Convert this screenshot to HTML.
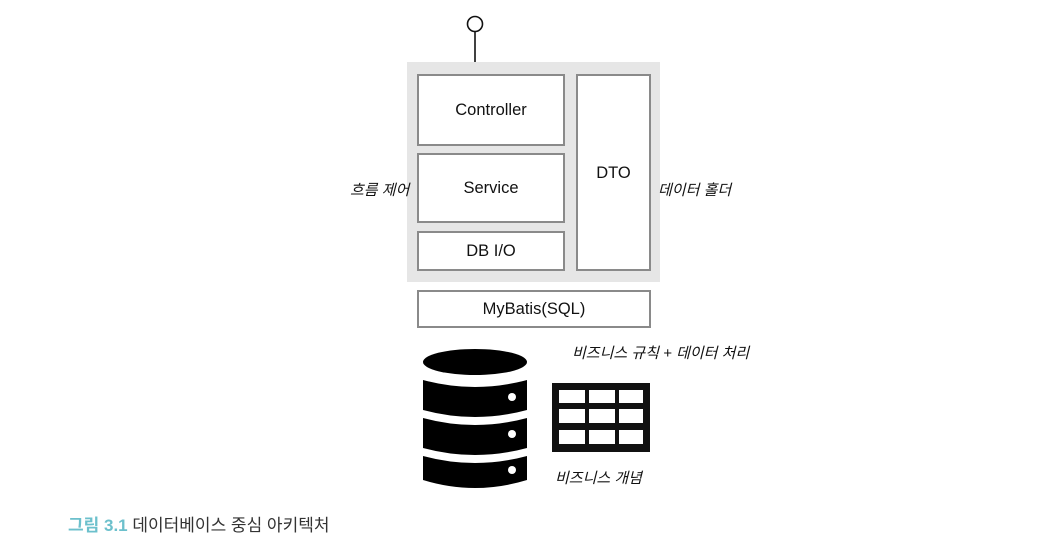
<!DOCTYPE html>
<html><head><meta charset="utf-8"><style>
body{margin:0;width:1048px;height:560px;background:#fff;position:relative;overflow:hidden;font-family:"Liberation Sans","Noto Sans CJK KR",sans-serif;}
.a{position:absolute;box-sizing:border-box;}
.bx{border:2px solid #8a8a8a;background:#fff;display:flex;align-items:center;justify-content:center;font-size:16.5px;color:#111;}
.lb{position:absolute;font-size:15px;font-style:italic;color:#111;white-space:nowrap;}
</style></head><body>
<svg class="a" style="left:0;top:0" width="1048" height="560">
<circle cx="475" cy="24" r="7.5" fill="#fff" stroke="#111" stroke-width="1.6"/>
<line x1="475" y1="31.5" x2="475" y2="62" stroke="#111" stroke-width="1.6"/>
</svg>
<div class="a" style="left:407px;top:62px;width:253px;height:220px;background:#e6e6e6"></div>
<div class="a bx" style="left:417px;top:74px;width:148px;height:72px">Controller</div>
<div class="a bx" style="left:417px;top:153px;width:148px;height:70px">Service</div>
<div class="a bx" style="left:417px;top:231px;width:148px;height:40px">DB I/O</div>
<div class="a bx" style="left:576px;top:74px;width:75px;height:197px;align-items:flex-start;padding-top:88px">DTO</div>
<div class="a bx" style="left:417px;top:290px;width:234px;height:38px">MyBatis(SQL)</div>
<svg class="a" style="left:0;top:0" width="1048" height="560">
<g fill="#000">
<ellipse cx="475" cy="362" rx="52" ry="13"/>
<path d="M423 380 Q475 394 527 380 L527 410 Q475 424 423 410 Z"/>
<path d="M423 418 Q475 432 527 418 L527 448 Q475 462 423 448 Z"/>
<path d="M423 456 Q475 470 527 456 L527 480 Q475 496 423 480 Z"/>
</g>
<g fill="#fff"><circle cx="512" cy="397" r="4"/><circle cx="512" cy="434" r="4"/><circle cx="512" cy="470" r="4"/></g>
<rect x="552" y="383" width="98" height="69" fill="#111"/>
<g fill="#fff">
<rect x="559" y="390" width="26" height="13"/><rect x="589" y="390" width="26" height="13"/><rect x="619" y="390" width="24" height="13"/>
<rect x="559" y="409" width="26" height="14"/><rect x="589" y="409" width="26" height="14"/><rect x="619" y="409" width="24" height="14"/>
<rect x="559" y="430" width="26" height="14"/><rect x="589" y="430" width="26" height="14"/><rect x="619" y="430" width="24" height="14"/>
</g>
</svg>
<div class="lb" style="left:350px;top:179px">흐름 제어</div>
<div class="lb" style="left:658px;top:179px">데이터 홀더</div>
<div class="lb" style="left:572px;top:342px">비즈니스 규칙 + 데이터 처리</div>
<div class="lb" style="left:555px;top:467px">비즈니스 개념</div>
<div class="a" style="left:68px;top:511px;font-size:17px;white-space:nowrap;color:#333"><b style="color:#6cc0cc">그림 3.1</b> 데이터베이스 중심 아키텍처</div>
</body></html>
